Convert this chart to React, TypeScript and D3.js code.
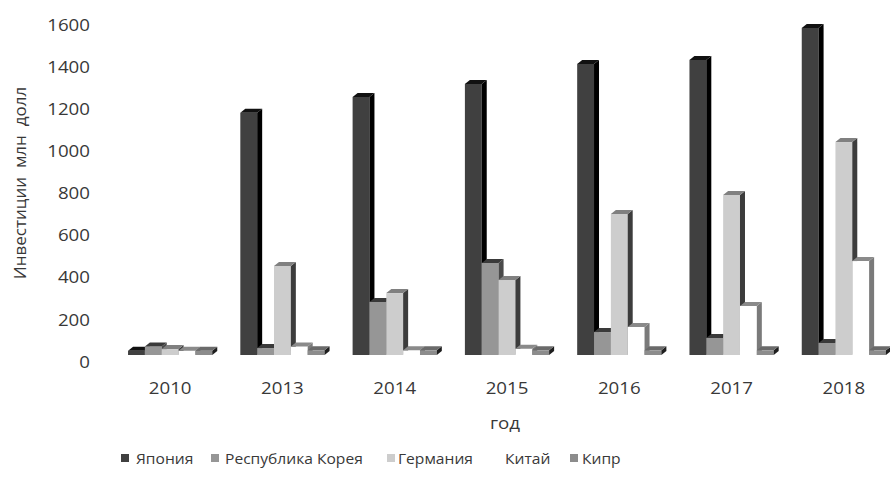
import React from 'react';
import * as d3 from 'd3';

const categories = ['2010', '2013', '2014', '2015', '2016', '2017', '2018'];
const seriesNames = ['Япония', 'Республика Корея', 'Германия', 'Китай', 'Кипр'];
const japan = [20, 1150, 1225, 1287, 1382, 1401, 1553];
const korea = [40, 33, 252, 437, 109, 81, 57];
const germany = [28, 423, 294, 356, 670, 760, 1011];
const china = [20, 40, 22, 30, 133, 233, 446];
const cyprus = [20, 22, 22, 22, 22, 22, 22];
const yTicks = [0, 200, 400, 600, 800, 1000, 1200, 1400, 1600];

const seriesValues = [japan, korea, germany, china, cyprus];
const faceColors = [
  { front: '#404040', side: '#000000', top: '#111111' },
  { front: '#969696', side: '#4a4a4a', top: '#3a3a3a' },
  { front: '#cdcdcd', side: '#3c3c3c', top: '#808080' },
  { front: '#ffffff', side: '#7a7a7a', top: '#8a8a8a' },
  { front: '#8c8c8c', side: '#1e1e1e', top: '#6a6a6a' },
];
const legendSwatch = ['#404040', '#969696', '#cdcdcd', '#ffffff', '#8c8c8c'];

const W = 890;
const H = 493;
const FONT = '"Open Sans", "Noto Sans", sans-serif';
const TXT = '#383838';
const DX = 5;
const DY = 4;

function T({ x, y, size, sx = 1.12, anchor = 'middle', children }: any) {
  return (
    <text
      transform={`translate(${x},${y}) scale(${sx},1)`}
      textAnchor={anchor}
      dominantBaseline="central"
      fontFamily={FONT}
      fontSize={size}
      fill={TXT}
      style={{ whiteSpace: 'pre' }}
    >
      {children}
    </text>
  );
}

export default function App() {
  const x = d3.scaleBand<string>().domain(categories).range([114, 900]).paddingInner(0.25).paddingOuter(0.125);
  const xs = d3.scaleBand<number>().domain(d3.range(seriesNames.length)).range([0, x.bandwidth()]).padding(0);
  const y = d3.scaleLinear().domain([0, 1600]).range([355, 18]);
  const base = y(0);

  const legendItems = [
    { sw: 121, tx: 136 },
    { sw: 211, tx: 225 },
    { sw: 387, tx: 398 },
    { sw: 491, tx: 505 },
    { sw: 570, tx: 582 },
  ];

  return (
    <svg width={W} height={H} style={{ position: 'absolute', left: 0, top: 0, background: '#fff' }}>
      <rect width={W} height={H} fill="#ffffff" />
      {yTicks.map((t) => (
        <T key={t} x={90} y={y(t) + 6} size={17} sx={1.1} anchor="end">
          {String(t)}
        </T>
      ))}
      <text
        transform={`translate(19,${183}) rotate(-90)`}
        textAnchor="middle"
        dominantBaseline="central"
        fontFamily={FONT}
        fontSize={17}
        fill={TXT}
        style={{ whiteSpace: 'pre' }}
      >
        {'Инвестиции  млн  долл'}
      </text>
      {categories.map((c, i) => (
        <g key={c}>
          {seriesValues.map((vals, j) => {
            const x0 = (x(c) as number) + (xs(j) as number);
            const w = xs.bandwidth();
            const yt = y(vals[i]);
            const col = faceColors[j];
            const side = `${x0 + w},${yt} ${x0 + w + DX},${yt - DY} ${x0 + w + DX},${base - DY} ${x0 + w},${base}`;
            const top = `${x0},${yt} ${x0 + DX},${yt - DY} ${x0 + w + DX},${yt - DY} ${x0 + w},${yt}`;
            return (
              <g key={j}>
                <rect x={x0} y={yt} width={w} height={base - yt} fill={col.front} />
                <polygon points={side} fill={col.side} />
                <polygon points={top} fill={col.top} />
              </g>
            );
          })}
          <T x={(x(c) as number) + x.bandwidth() / 2} y={387} size={17} sx={1.1}>
            {c}
          </T>
        </g>
      ))}
      <T x={505} y={422} size={17} sx={1.1}>
        {'год'}
      </T>
      {seriesNames.map((s, j) => (
        <g key={s}>
          <rect x={legendItems[j].sw} y={454} width={8} height={8} fill={legendSwatch[j]} />
          <T x={legendItems[j].tx} y={458} size={15} sx={1.04} anchor="start">
            {s}
          </T>
        </g>
      ))}
    </svg>
  );
}
